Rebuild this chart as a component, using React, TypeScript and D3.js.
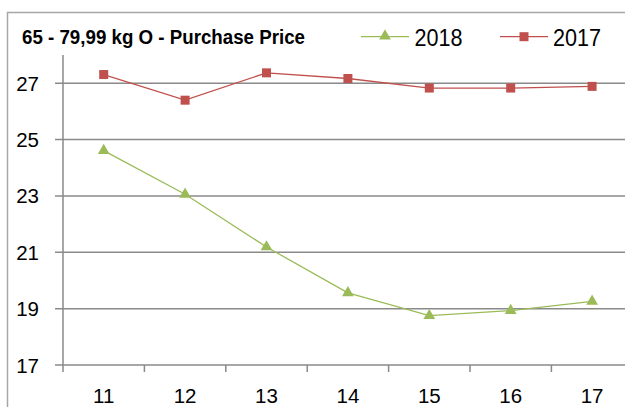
import React from "react";
import * as d3 from "d3";

const categories = ["11", "12", "13", "14", "15", "16", "17"];
const series2018 = [24.61, 23.06, 21.19, 19.56, 18.75, 18.93, 19.26];
const series2017 = [27.31, 26.4, 27.37, 27.17, 26.83, 26.83, 26.89];
const yTicks = [17, 19, 21, 23, 25, 27];
const title = "65 - 79,99 kg O - Purchase Price";

const W = 625;
const H = 407;
const FONT = "'Liberation Sans', Arial, sans-serif";

export default function App() {
  const x = d3.scaleBand<string>().domain(categories).range([63, 63 + 81.4 * 7]);
  const y = d3.scaleLinear().domain([17, 28]).range([365, 55.1]);
  const cx = (c: string) => (x(c) ?? 0) + x.bandwidth() / 2;
  const line = d3
    .line<number>()
    .x((_, i) => cx(categories[i]))
    .y((v) => y(v));
  const tri = d3.symbol().type(d3.symbolTriangle).size(60)();
  const green = "#9bbb59";
  const red = "#c0504d";
  const grid = "#8a8a8a";

  return (
    <svg
      width={W}
      height={H}
      style={{ position: "absolute", left: 0, top: 0, background: "#fff" }}
      fontFamily={FONT}
    >
      <rect x={7.5} y={12.5} width={800} height={600} fill="#fff" stroke="#a6a6a6" strokeWidth={1.5} />
      {yTicks.map((t) => (
        <g key={t}>
          <line x1={55} x2={W + 10} y1={y(t)} y2={y(t)} stroke={grid} strokeWidth={1.5} />
          <text x={39} y={y(t) + 7.5} textAnchor="end" fontSize={20.5} fill="#000">
            {t}
          </text>
        </g>
      ))}
      <line x1={63} x2={63} y1={y(28)} y2={372} stroke={grid} strokeWidth={1.5} />
      {categories.map((c) => (
        <g key={c}>
          <line
            x1={(x(c) ?? 0) + x.bandwidth()}
            x2={(x(c) ?? 0) + x.bandwidth()}
            y1={365}
            y2={372}
            stroke={grid}
            strokeWidth={1.5}
          />
          <text x={cx(c)} y={403} textAnchor="middle" fontSize={20.5} fill="#000">
            {c}
          </text>
        </g>
      ))}
      <path d={line(series2017) ?? ""} fill="none" stroke={red} strokeWidth={1.3} />
      {series2017.map((v, i) => (
        <rect key={i} x={cx(categories[i]) - 4.5} y={y(v) - 4.5} width={9} height={9} fill={red} />
      ))}
      <path d={line(series2018) ?? ""} fill="none" stroke={green} strokeWidth={1.3} />
      {series2018.map((v, i) => (
        <path key={i} d={tri ?? ""} transform={`translate(${cx(categories[i])},${y(v)})`} fill={green} />
      ))}
      <text x={22} y={43.5} fontSize={19.5} fontWeight="bold" fill="#000" textLength={283} lengthAdjust="spacingAndGlyphs">
        {title}
      </text>
      <line x1={361} x2={409} y1={36.7} y2={36.7} stroke={green} strokeWidth={1.3} />
      <path d={tri ?? ""} transform="translate(385,36)" fill={green} />
      <text x={414.5} y={45.7} fontSize={23} fill="#000" textLength={48} lengthAdjust="spacingAndGlyphs">
        2018
      </text>
      <line x1={500} x2={548} y1={36.7} y2={36.7} stroke={red} strokeWidth={1.3} />
      <rect x={519.5} y={32.2} width={9} height={9} fill={red} />
      <text x={553} y={45.7} fontSize={23} fill="#000" textLength={48} lengthAdjust="spacingAndGlyphs">
        2017
      </text>
    </svg>
  );
}
